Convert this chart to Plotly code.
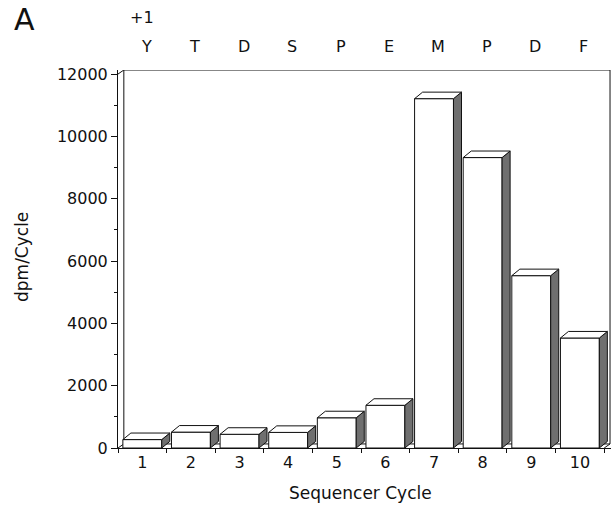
import plotly.graph_objects as go

cycles = [1, 2, 3, 4, 5, 6, 7, 8, 9, 10]
dpm = [270, 510, 440, 500, 970, 1370, 11210, 9320, 5530, 3530]
residues = ["Y", "T", "D", "S", "P", "E", "M", "P", "D", "F"]
y_ticks = [0, 2000, 4000, 6000, 8000, 10000, 12000]

FONT = "DejaVu Sans"
FS = 16
BAR_W = 0.8
DDX, DDY = 0.165, 210      # bar depth (data units)
WDX, WDY = 0.12, 130       # wall depth (data units)
X0, X1 = 0.5, 10.5
YMAX = 12000

L, R, T, B = 118, 2, 70, 60
PW, PH = 613 - L - R, 508 - T - B


def px_x(p):
    return (p - L) / PW


def px_y(p):
    return (508 - B - p) / PH


fig = go.Figure()

# front faces
fig.add_trace(go.Bar(x=cycles, y=dpm, width=BAR_W,
                     marker=dict(color="white", line=dict(color="#111", width=1)),
                     hoverinfo="skip"))

# side and top faces
sx, sy = [], []
tx, ty = [], []
h = BAR_W / 2
for c, v in zip(cycles, dpm):
    sx += [c + h, c + h + DDX, c + h + DDX, c + h, c + h, None]
    sy += [0, DDY, v + DDY, v, 0, None]
    tx += [c - h, c - h + DDX, c + h + DDX, c + h, c - h, None]
    ty += [v, v + DDY, v + DDY, v, v, None]
fig.add_trace(go.Scatter(x=sx, y=sy, mode="lines", fill="toself",
                         fillcolor="#6f6f6f", line=dict(color="#111", width=1),
                         hoverinfo="skip"))
fig.add_trace(go.Scatter(x=tx, y=ty, mode="lines", fill="toself",
                         fillcolor="white", line=dict(color="#111", width=1),
                         hoverinfo="skip"))

# 3D wall frame
line = dict(color="#111", width=1)
wall = [
    (X0 + WDX, WDY, X0 + WDX, YMAX + WDY),
    (X0 + WDX, YMAX + WDY, X1 + WDX, YMAX + WDY),
    (X1 + WDX, YMAX + WDY, X1 + WDX, WDY),
    (X0 + WDX, WDY, X1 + WDX, WDY),
    (X0, 0, X0 + WDX, WDY),
    (X0, YMAX, X0 + WDX, YMAX + WDY),
    (X1, 0, X1 + WDX, WDY),
]
for a, b, c, d in wall:
    fig.add_shape(type="line", xref="x", yref="y", x0=a, y0=b, x1=c, y1=d,
                  line=line, layer="below")

txt = dict(family=FONT, size=FS, color="#111")
ctr = dict(xanchor="center", yanchor="middle", showarrow=False)
# residue letters
for c, r in zip(cycles, residues):
    fig.add_annotation(x=c, y=px_y(47), xref="x", yref="paper", text=r,
                       xshift=4, font=txt, **ctr)
fig.add_annotation(x=1, y=px_y(18), xref="x", yref="paper", text="+1",
                   xshift=0, font=txt, **ctr)
fig.add_annotation(x=px_x(24), y=px_y(19), xref="paper", yref="paper", text="A",
                   font=dict(family=FONT, size=30, color="#111"), **ctr)
# axis titles
fig.add_annotation(x=px_x(360), y=px_y(493), xref="paper", yref="paper",
                   text="Sequencer Cycle",
                   font=dict(family=FONT, size=17, color="#111"), **ctr)
fig.add_annotation(x=px_x(22), y=px_y(257), xref="paper", yref="paper",
                   text="dpm/Cycle", textangle=-90,
                   font=dict(family=FONT, size=17, color="#111"), **ctr)

fig.update_layout(
    width=613, height=508,
    margin=dict(l=L, r=R, t=T, b=B),
    paper_bgcolor="white", plot_bgcolor="white",
    showlegend=False,
    font=txt,
    xaxis=dict(range=[X0, X1 + WDX + 0.02], tickvals=cycles,
               ticktext=[str(c) for c in cycles],
               ticks="", showline=True, linecolor="#111", linewidth=1,
               showgrid=False, zeroline=False, fixedrange=True, automargin=False,
               tickfont=txt,
               minor=dict(tickvals=[i + 0.5 for i in range(0, 11)], ticks="outside",
                          ticklen=4, tickcolor="#111")),
    yaxis=dict(range=[0, YMAX + WDY], tickvals=y_ticks,
               ticktext=[str(v) for v in y_ticks], ticks="outside", ticklen=6,
               tickcolor="#111", showline=True, linecolor="#111", linewidth=1,
               showgrid=False, zeroline=False, automargin=False, tickfont=txt,
               fixedrange=True,
               minor=dict(dtick=1000, ticks="outside", ticklen=3, tickcolor="#111")),
)

fig.write_html("out.html", config={"displayModeBar": False},
               post_script="document.body.style.margin='0';document.body.style.overflow='hidden';")
